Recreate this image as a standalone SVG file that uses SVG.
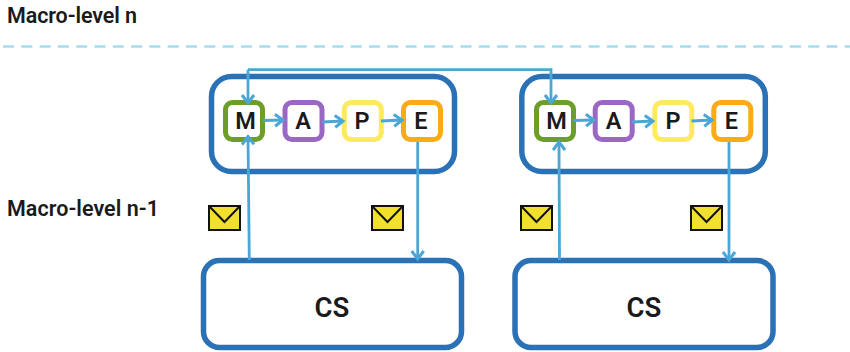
<svg xmlns="http://www.w3.org/2000/svg" width="850" height="352" viewBox="0 0 850 352">
<style>
text{font-family:"Roboto","Liberation Sans",sans-serif;font-weight:600;fill:#1a1a1a}
.lvl{font-size:21.500px}
.k{font-size:23.500px;text-anchor:middle}
.cs{font-size:27.500px;text-anchor:middle}
.outer{fill:#fff;stroke:#2a72b5;stroke-width:5.500}
.box{fill:#fff;stroke-width:5}
.c{fill:none;stroke:#4ba6d6;stroke-width:2.800}
.env{fill:#f2e02e;stroke:#111;stroke-width:2}
.m{stroke:#6d9e2a}.a{stroke:#9b67c4}.p{stroke:#fdea5e}.e{stroke:#fbab18}
</style>
<defs>
<marker id="ah" markerUnits="userSpaceOnUse" markerWidth="16" markerHeight="16" refX="11" refY="8" orient="auto" overflow="visible"><path d="M3 2L11 8L3 14" fill="none" stroke="#4ba6d6" stroke-width="3"/></marker>
<symbol id="mail" overflow="visible"><rect x="1" y="1" width="31" height="24" class="env"/><path d="M1.500 1.500L16.500 17L31.500 1.500" fill="none" stroke="#111" stroke-width="2"/></symbol>
</defs>
<rect width="850" height="352" fill="#fff"/>
<g id="levels">
<text class="lvl" x="7" y="22.500" textLength="130">Macro-level n</text>
<text class="lvl" x="7" y="215.500" textLength="152">Macro-level n-1</text>
<path d="M3 46.500H850" fill="none" stroke="#a6dcef" stroke-width="2.500" stroke-dasharray="11 7.300"/>
</g>
<g id="mape-left-container"><rect class="outer" x="211.500" y="76.500" width="243" height="95" rx="20"/></g>
<g id="mape-right-container"><rect class="outer" x="521.800" y="76.500" width="243.500" height="95" rx="20"/></g>
<g id="cs-left"><rect class="outer" x="203.500" y="260.500" width="258" height="87" rx="16"/><text class="cs" x="332" y="316.500">CS</text></g>
<g id="cs-right"><rect class="outer" x="515" y="260.500" width="258" height="87" rx="16"/><text class="cs" x="644" y="316.500">CS</text></g>
<g id="m-left"><rect class="box m" x="225.500" y="102.500" width="37" height="37" rx="7"/><text class="k" x="245.500" y="129">M</text></g>
<g id="a-left"><rect class="box a" x="285" y="102.500" width="37" height="37" rx="7"/><text class="k" x="303" y="129">A</text></g>
<g id="p-left"><rect class="box p" x="344.300" y="102.500" width="37" height="37" rx="7"/><text class="k" x="362" y="129">P</text></g>
<g id="e-left"><rect class="box e" x="403.500" y="102.500" width="37" height="37" rx="7"/><text class="k" x="421" y="129">E</text></g>
<g id="m-right"><rect class="box m" x="536.500" y="102.500" width="37" height="37" rx="7"/><text class="k" x="556.500" y="129">M</text></g>
<g id="a-right"><rect class="box a" x="595.200" y="102.500" width="37" height="37" rx="7"/><text class="k" x="613.700" y="129">A</text></g>
<g id="p-right"><rect class="box p" x="654.800" y="102.500" width="37" height="37" rx="7"/><text class="k" x="673" y="129">P</text></g>
<g id="e-right"><rect class="box e" x="713.800" y="102.500" width="37" height="37" rx="7"/><text class="k" x="731.500" y="129">E</text></g>
<g id="connectors">
<path class="c" d="M263 120.500L283 120" marker-end="url(#ah)"/>
<path class="c" d="M322 122L343 121" marker-end="url(#ah)"/>
<path class="c" d="M381 121L402 120" marker-end="url(#ah)"/>
<path class="c" d="M573.500 120.500L594 120" marker-end="url(#ah)"/>
<path class="c" d="M632 122L653 121" marker-end="url(#ah)"/>
<path class="c" d="M691.500 121L712 120" marker-end="url(#ah)"/>
<path class="c" d="M248 69.700H551V103" marker-end="url(#ah)"/>
<path class="c" d="M248 69.700V103" marker-end="url(#ah)"/>
<path class="c" d="M249.300 260L248 136.500" marker-end="url(#ah)"/>
<path class="c" d="M559.500 260L559 142" marker-end="url(#ah)"/>
<path class="c" d="M417.700 142V259" marker-end="url(#ah)"/>
<path class="c" d="M729 142V260" marker-end="url(#ah)"/>
</g>
<g id="mail-1"><use href="#mail" x="208" y="205"/></g>
<g id="mail-2"><use href="#mail" x="371" y="205"/></g>
<g id="mail-3"><use href="#mail" x="520" y="205"/></g>
<g id="mail-4"><use href="#mail" x="690" y="205"/></g>
</svg>
